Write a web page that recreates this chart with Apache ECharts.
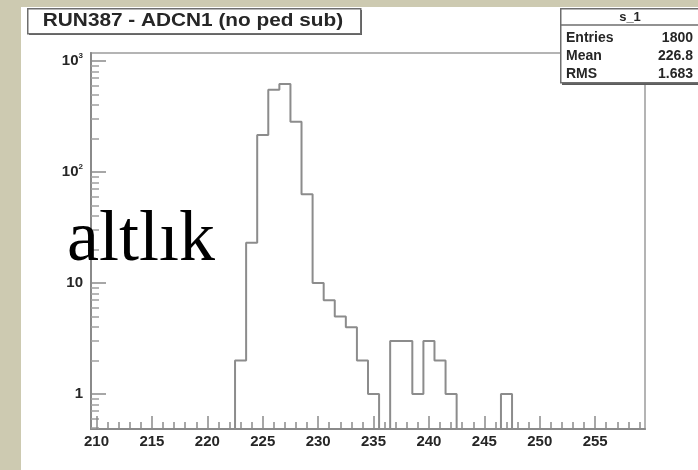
<!DOCTYPE html>
<html>
<head>
<meta charset="utf-8">
<script src="https://cdn.jsdelivr.net/npm/echarts@6/dist/echarts.min.js"></script>
<style>
    body { margin: 0; background: #cdcab1; }
    #chart { width: 698px; height: 470px; }
</style>
</head>
<body>
<div id="chart"></div>
<script>
// ADC channel (bin centre, bin width 1) and counts per bin
var binCenters = [223, 224, 225, 226, 227, 228, 229, 230, 231, 232, 233, 234, 235,
                  236, 237, 238, 239, 240, 241, 242, 243, 244, 245, 246, 247];
var counts = [2, 23, 215, 550, 620, 284, 63, 10, 7, 5, 4, 2, 1,
              0, 3, 3, 1, 3, 2, 1, 0, 0, 0, 0, 1];

// axis ranges and tick labels
var xMin = 209.5, xMax = 259.5;
var yMin = 0.484, yMax = 1180;
var xTicks = [210, 215, 220, 225, 230, 235, 240, 245, 250, 255];
var yTicks = [1, 10, 100, 1000];

// stat box
var histName = 's_1';
var statNames = ['Entries', 'Mean', 'RMS'];
var statValues = ['1800', '226.8', '1.683'];
var titleText = 'RUN387 - ADCN1 (no ped sub)';
var noteText = 'altlık';

// minor ticks: every channel on x, 2..9 per decade on y
var xMinor = [];
for (var i = 210; i < 260; i++) {
    if (i % 5 != 0) xMinor.push(i);
}
var yMinor = [];
[0.1, 1, 10, 100].forEach(function (d) {
    for (var k = 2; k <= 9; k++) {
        var v = +(k * d).toFixed(2);
        if (v > yMin && v < yMax) yMinor.push(v);
    }
});

// outline of the histogram: top of each bin, empty bins go to the frame floor
var outline = [[binCenters[0] - 0.5, yMin]];
binCenters.forEach(function (c, i) {
    var v = counts[i] > 0 ? counts[i] : yMin;
    outline.push([c - 0.5, v]);
    outline.push([c + 0.5, v]);
});
outline.push([binCenters[binCenters.length - 1] + 0.5, yMin]);

var textColor = '#262626';
var axisColor = '#8a8a8a';
var gridRect = { left: 91, top: 53, width: 554, height: 376 };

var chart = echarts.init(document.getElementById('chart'));
var option = {
    backgroundColor: '#cdcab1',
    animation: false,
    grid: [
        Object.assign({ show: true, borderColor: '#b4b4b4', borderWidth: 2, backgroundColor: 'transparent' }, gridRect),
        Object.assign({ show: false }, gridRect)
    ],
    xAxis: [
        {
            type: 'value', gridIndex: 0, min: xMin, max: xMax,
            axisLine: { show: true, lineStyle: { color: axisColor, width: 2 } },
            axisTick: { show: true, inside: true, length: 13, customValues: xTicks, lineStyle: { color: axisColor, width: 1.5 } },
            axisLabel: {
                customValues: xTicks, margin: 5,
                color: textColor, fontSize: 15, fontWeight: 'bold', fontFamily: 'Liberation Sans'
            },
            splitLine: { show: false }
        },
        {
            type: 'value', gridIndex: 1, min: xMin, max: xMax,
            axisLine: { show: false },
            axisTick: { show: true, inside: true, length: 7, customValues: xMinor, lineStyle: { color: axisColor, width: 1.5 } },
            axisLabel: { show: false },
            splitLine: { show: false }
        }
    ],
    yAxis: [
        {
            type: 'log', logBase: 10, gridIndex: 0, min: yMin, max: yMax,
            axisLine: { show: true, lineStyle: { color: axisColor, width: 2 } },
            axisTick: { show: true, inside: true, length: 15, customValues: yTicks, lineStyle: { color: axisColor, width: 1.5 } },
            axisLabel: {
                customValues: yTicks, margin: 8,
                formatter: function (v) {
                    var p = Math.round(Math.log10(v));
                    if (p < 2) return '{b|' + Math.round(v) + '}';
                    return '{b|10}{s|' + p + '}';
                },
                rich: {
                    b: { color: textColor, fontSize: 15, fontWeight: 'bold', fontFamily: 'Liberation Sans', lineHeight: 18 },
                    s: { color: textColor, fontSize: 8, fontWeight: 'bold', fontFamily: 'Liberation Sans', lineHeight: 18, verticalAlign: 'top' }
                }
            },
            splitLine: { show: false }
        },
        {
            type: 'log', logBase: 10, gridIndex: 1, min: yMin, max: yMax,
            axisLine: { show: false },
            axisTick: { show: true, inside: true, length: 8, customValues: yMinor, lineStyle: { color: '#a0a0a0', width: 1.5 } },
            axisLabel: { show: false },
            splitLine: { show: false }
        }
    ],
    graphic: [
        // white pad
        { type: 'rect', left: 21, top: 7, z: -10, silent: true,
          shape: { width: 677, height: 463 }, style: { fill: '#ffffff' } },
        // title box
        { type: 'rect', left: 29, top: 10, z: 10, shape: { width: 333, height: 25 }, style: { fill: '#5a5a5a' } },
        { type: 'rect', left: 27, top: 8, z: 11, shape: { width: 333, height: 25 },
          style: { fill: '#ffffff', stroke: '#6e6e6e', lineWidth: 1.5 } },
        { type: 'text', x: 193, y: 21.5, z: 12, scaleX: 1.155, originX: 0,
          style: { text: titleText, fill: textColor, font: 'bold 18px "Liberation Sans"', align: 'center', verticalAlign: 'middle' } },
        // stat box
        { type: 'rect', left: 562, top: 10, z: 10, shape: { width: 140, height: 75 }, style: { fill: '#5a5a5a' } },
        { type: 'rect', left: 560, top: 8, z: 11, shape: { width: 140, height: 74 },
          style: { fill: '#ffffff', stroke: '#6e6e6e', lineWidth: 1.5 } },
        { type: 'line', z: 12, shape: { x1: 560, y1: 25, x2: 698, y2: 25 }, style: { stroke: '#6e6e6e', lineWidth: 1.5 } },
        { type: 'text', x: 630, y: 17, z: 12,
          style: { text: histName, fill: textColor, font: 'bold 13px "Liberation Sans"', align: 'center', verticalAlign: 'middle' } },
        { type: 'text', x: 566, y: 29, z: 12,
          style: { text: statNames.join('\n'), fill: textColor, font: 'bold 14px "Liberation Sans"', lineHeight: 18, verticalAlign: 'top' } },
        { type: 'text', x: 693, y: 29, z: 12,
          style: { text: statValues.join('\n'), fill: textColor, font: 'bold 14px "Liberation Sans"', lineHeight: 18, align: 'right', verticalAlign: 'top' } },
        // overlay word
        { type: 'text', x: 67, y: 205, z: 20,
          style: { text: noteText, fill: '#000000', font: '72px "Liberation Serif"', verticalAlign: 'top' } }
    ],
    series: [
        {
            name: 'ADCN1',
            type: 'line',
            xAxisIndex: 0, yAxisIndex: 0,
            data: outline,
            showSymbol: false,
            clip: true,
            lineStyle: { color: '#8c8c8c', width: 2 },
            z: 3
        }
    ]
};
chart.setOption(option);
</script>
</body>
</html>
